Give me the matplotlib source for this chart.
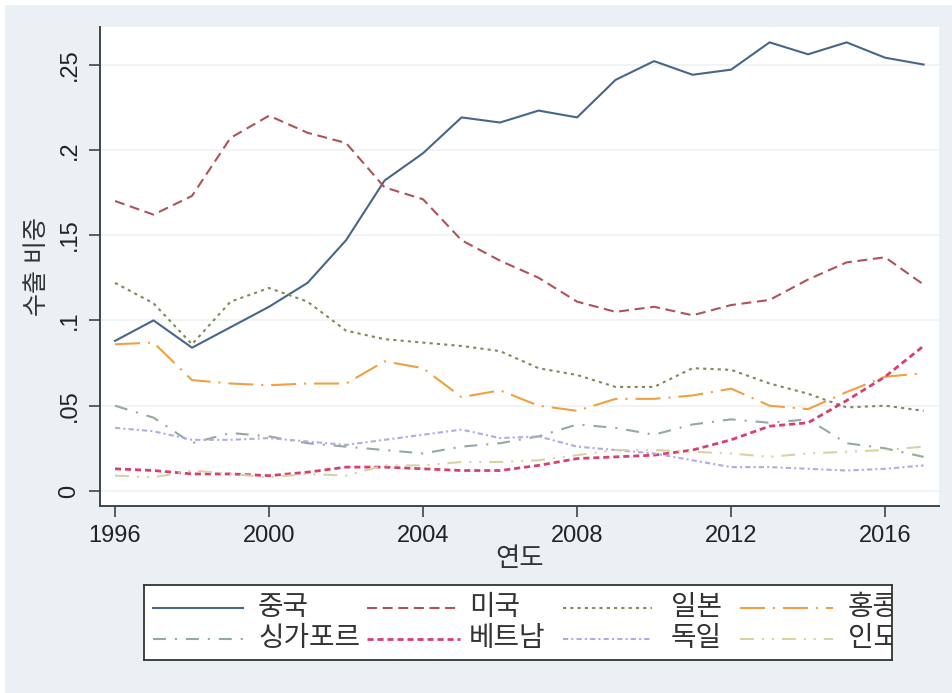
import matplotlib
matplotlib.use("Agg")
import matplotlib.pyplot as plt
from matplotlib.patches import Rectangle

plt.rcParams['font.family'] = ['Liberation Sans', 'Noto Sans CJK KR', 'DejaVu Sans']

years = list(range(1996, 2018))

china = [0.088, 0.100, 0.084, 0.096, 0.108, 0.122, 0.147, 0.182, 0.198, 0.219, 0.216, 0.223,
         0.219, 0.241, 0.252, 0.244, 0.247, 0.263, 0.256, 0.263, 0.254, 0.250]
usa = [0.170, 0.162, 0.173, 0.207, 0.220, 0.210, 0.204, 0.178, 0.171, 0.147, 0.135, 0.125,
       0.111, 0.105, 0.108, 0.103, 0.109, 0.112, 0.124, 0.134, 0.137, 0.121]
japan = [0.122, 0.110, 0.086, 0.111, 0.119, 0.111, 0.094, 0.089, 0.087, 0.085, 0.082, 0.072,
         0.068, 0.061, 0.061, 0.072, 0.071, 0.063, 0.057, 0.049, 0.050, 0.047]
hongkong = [0.086, 0.087, 0.065, 0.063, 0.062, 0.063, 0.063, 0.076, 0.072, 0.055, 0.059, 0.050,
            0.047, 0.054, 0.054, 0.056, 0.060, 0.050, 0.048, 0.058, 0.067, 0.069]
singapore = [0.050, 0.043, 0.028, 0.034, 0.032, 0.028, 0.026, 0.024, 0.022, 0.026, 0.028, 0.032,
             0.039, 0.037, 0.033, 0.039, 0.042, 0.040, 0.042, 0.028, 0.025, 0.020]
vietnam = [0.013, 0.012, 0.010, 0.010, 0.009, 0.011, 0.014, 0.014, 0.013, 0.012, 0.012, 0.015,
           0.019, 0.020, 0.021, 0.024, 0.030, 0.038, 0.040, 0.053, 0.067, 0.085]
germany = [0.037, 0.035, 0.030, 0.030, 0.031, 0.029, 0.027, 0.030, 0.033, 0.036, 0.031, 0.032,
           0.026, 0.024, 0.022, 0.018, 0.014, 0.014, 0.013, 0.012, 0.013, 0.015]
india = [0.009, 0.008, 0.012, 0.010, 0.008, 0.010, 0.009, 0.015, 0.015, 0.017, 0.017, 0.018,
         0.021, 0.024, 0.024, 0.023, 0.022, 0.020, 0.022, 0.023, 0.024, 0.026]

series_names = ['중국', '미국', '일본', '홍콩', '싱가포르', '베트남', '독일', '인도']
series_data = [china, usa, japan, hongkong, singapore, vietnam, germany, india]

xticks = [1996, 2000, 2004, 2008, 2012, 2016]
yticks = [0, 0.05, 0.1, 0.15, 0.2, 0.25]
ytick_labels = ['0', '.05', '.1', '.15', '.2', '.25']

colors = ['#46668c', '#b0525a', '#7d8c58', '#f0a040', '#93ab9f', '#d8406c', '#b2aae2', '#d8d2a2']
styles = ['-', (0, (4.8, 2.7)), (0, (1.5, 2.0)), (0, (12, 3.8, 1, 3.8)), (0, (6.2, 4.3, 1, 4.3)),
          (0, (2.2, 1.4)), (0, (2.5, 1.5, 1, 1.5)), (0, (6.7, 3.8, 1, 3.8, 1, 3.8))]
widths = [1.5, 1.5, 1.5, 1.5, 1.5, 2.0, 1.5, 1.5]

W, H = 953, 693
fig = plt.figure(figsize=(W / 100, H / 100), dpi=100)
fig.patch.set_facecolor('white')
fig.add_artist(Rectangle((5 / W, 0), 1, 1 - 5 / H, transform=fig.transFigure,
                         facecolor='#eaf0f3', edgecolor='none', zorder=-10))

ax = fig.add_axes([100 / W, 1 - 506 / H, (939 - 100) / W, (506 - 27) / H])
ax.set_facecolor('white')
for name, d, c, s, w in zip(series_names, series_data, colors, styles, widths):
    ax.plot(years, d, color=c, linestyle=s, linewidth=w, label=name)

ax.set_xlim(1995.61, 2017.4)
ax.set_ylim(-0.0088, 0.272)
ax.set_xticks(xticks)
ax.set_xticklabels([str(x) for x in xticks])
ax.set_yticks(yticks)
ax.set_yticklabels(ytick_labels, rotation=90, va='center')
ax.grid(axis='y', color='#edf2f4', linewidth=1.2)
ax.set_axisbelow(True)
for sp in ['top', 'right']:
    ax.spines[sp].set_visible(False)
for sp in ['left', 'bottom']:
    ax.spines[sp].set_color('#444444')
    ax.spines[sp].set_linewidth(1.4)
ax.tick_params(axis='both', direction='out', length=8, width=1.2, color='#444444',
               labelsize=17, labelcolor='#222222', pad=6)
ax.set_xlabel('연도', fontsize=19, color='#333333', labelpad=0)
ax.set_ylabel('수출 비중', fontsize=18, color='#333333', labelpad=7)

# legend box drawn manually (text clipped at the box edge as in the original)
lx0, lx1, ly0, ly1 = 144, 892, 585, 660
lax = fig.add_axes([lx0 / W, 1 - ly1 / H, (lx1 - lx0) / W, (ly1 - ly0) / H])
lax.set_xlim(lx0, lx1)
lax.set_ylim(ly1, ly0)
lax.set_xticks([])
lax.set_yticks([])
lax.set_facecolor('white')
for sp in lax.spines.values():
    sp.set_color('#333333')
    sp.set_linewidth(1.3)
handle_x = [(153, 243), (367, 460), (563, 652), (740, 833)]
text_x = [258, 469, 671, 848]
row_y = [608, 639]
for i, (name, c, s, w) in enumerate(zip(series_names, colors, styles, widths)):
    r, col = divmod(i, 4)
    hx = handle_x[col]
    lax.plot(hx, [row_y[r], row_y[r]], color=c, linestyle=s, linewidth=w)
    lax.text(text_x[col], row_y[r], name, fontsize=20, color='#333333',
             va='center', ha='left', clip_on=True)

fig.savefig('out.png', dpi=100)
